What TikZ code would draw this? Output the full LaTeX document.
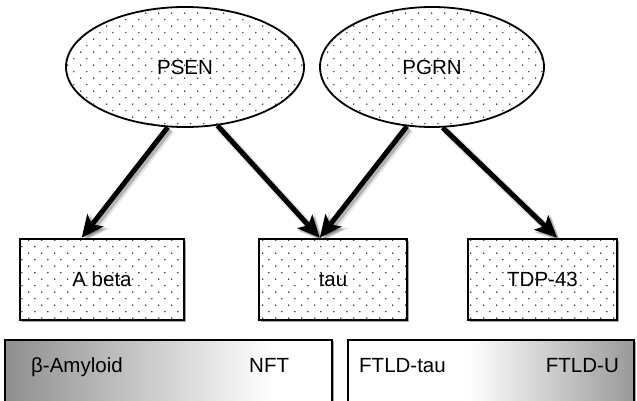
\documentclass[tikz,border=0pt]{standalone}
\usepackage{fontspec}
\setmainfont{Liberation Sans}
\usetikzlibrary{arrows.meta,shapes.geometric,patterns.meta,shadows,calc}

% staggered dot fill used in the ellipses and the boxes
\pgfdeclarepattern{
  name=stagdots, type=uncolored,
  bottom left={\pgfpoint{0pt}{0pt}}, top right={\pgfpoint{13pt}{13.4pt}},
  tile size={\pgfpoint{13pt}{13.4pt}},
  code={
    \pgfpathcircle{\pgfpoint{3pt}{3pt}}{.75pt}
    \pgfpathcircle{\pgfpoint{9.5pt}{9.7pt}}{.75pt}
    \pgfusepath{fill}
  }}

% grey fades of the two pathology bars
\pgfdeclarehorizontalshading{barfadeL}{100bp}{color(0bp)=(black!44); color(25bp)=(black!44); color(66bp)=(white); color(100bp)=(white)}
\pgfdeclarehorizontalshading{barfadeR}{100bp}{color(0bp)=(white); color(46bp)=(white); color(75bp)=(black!40); color(100bp)=(black!40)}

\tikzset{
  soft shadow/.style={drop shadow={shadow xshift=1.6pt, shadow yshift=-1.6pt, opacity=.35, fill=black}},
  dotted fill/.style={preaction={fill=white}, pattern=stagdots, pattern color=black},
  gene/.style={ellipse, draw, line width=1.8pt, dotted fill, inner sep=0pt,
    minimum height=120pt, font=\fontsize{20.5}{24}\selectfont,
    text height=14.8pt, text depth=0pt},
  protein/.style={rectangle, soft shadow, draw, line width=2.4pt, dotted fill, inner sep=0pt,
    minimum height=81pt, font=\fontsize{20.5}{24}\selectfont,
    text height=14.8pt, text depth=0pt},
  bar/.style={rectangle, soft shadow, draw, line width=2pt, inner sep=0pt, minimum height=80pt},
  barlabel/.style={inner sep=0pt, font=\fontsize{20.5}{24}\selectfont},
  link/.style={line width=5pt, -{Stealth[length=22pt,width=20pt,inset=5pt]}},
  linkshade/.style={link, draw=black, opacity=#1,
    transform canvas={xshift=2.5pt,yshift=-2.5pt}},
  linkhaze/.style={line width=8pt, draw=black, opacity=#1, -{Stealth[length=25pt,width=24pt,inset=5pt]},
    transform canvas={xshift=3pt,yshift=-3pt}},
}

\begin{document}
\begin{tikzpicture}[x=1pt,y=-1pt]
\useasboundingbox (0,0) rectangle (637,401);

% genes
\node[gene, minimum width=238pt] (psen) at (185,67) {PSEN};
\node[gene, minimum width=224pt] (pgrn) at (432,67) {PGRN};

% proteins
\node[protein, minimum width=164pt] (abeta) at (102,279.5) {A beta};
\node[protein, minimum width=148pt] (tau) at (333,279.5) {tau};
\node[protein, minimum width=149pt] (tdp) at (542.5,279.5) {TDP-43};

% entry points on the box tops
\coordinate (abetaIn) at ($(abeta.north west)!0.378!(abeta.north east)$);
\coordinate (tauIn) at ($(tau.north west)!0.412!(tau.north east)$);
\coordinate (tdpIn) at ($(tdp.north west)!0.597!(tdp.north east)$);

% soft shadows of the arrows
\foreach \s/\t in {psen.254/abetaIn, psen.299/tauIn, pgrn.247/tauIn, pgrn.280/tdpIn}{
  \draw[linkhaze=.1] (\s) -- (\t);
  \draw[linkshade=.22] (\s) -- (\t);
}

% arrows
\draw[link] (psen.254) -- (abetaIn);
\draw[link] (psen.299) -- (tauIn);
\draw[link] (pgrn.247) -- (tauIn);
\draw[link] (pgrn.280) -- (tdpIn);

% pathology bars
\node[bar, shading=barfadeL, minimum width=327pt] (barL) at (168.5,380) {};
\node[bar, shading=barfadeR, minimum width=286pt] (barR) at (491,380) {};

\node[barlabel, anchor=base west] (amyloid) at (31,372) {β-Amyloid};
\node[barlabel, anchor=base west] (nft) at (249,372) {NFT};
\node[barlabel, anchor=base west] (ftldtau) at (359,372) {FTLD-tau};
\node[barlabel, anchor=base east] (ftldu) at (619,372) {FTLD-U};
\end{tikzpicture}
\end{document}
